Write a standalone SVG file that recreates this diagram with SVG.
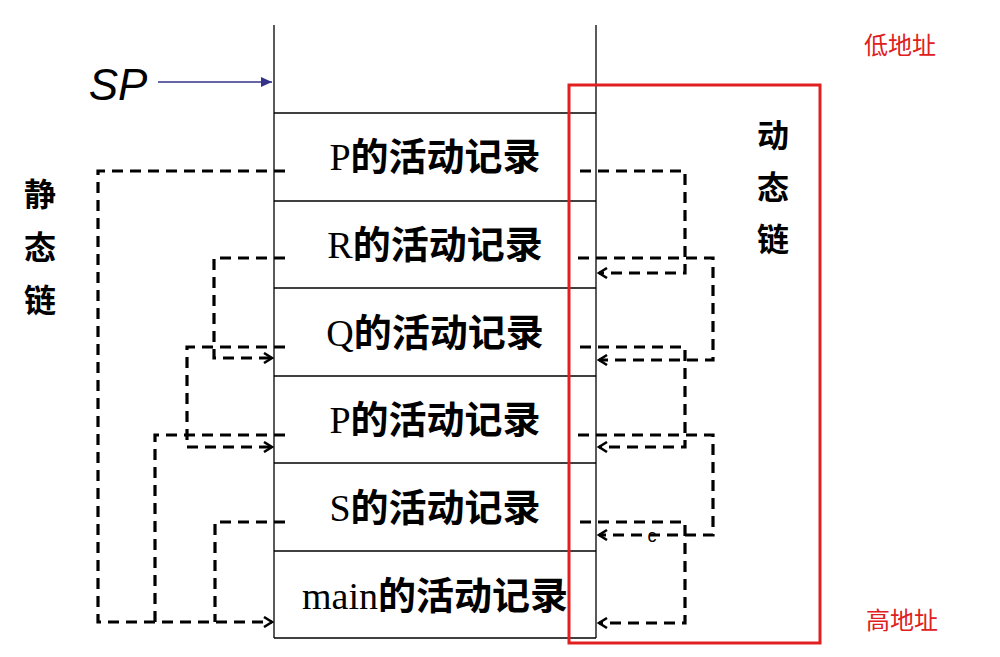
<svg xmlns="http://www.w3.org/2000/svg" width="1000" height="657" viewBox="0 0 1000 657">
<style>
.box{fill:none;stroke:#000;stroke-width:1.3}
.t{font-family:"Liberation Serif","Noto Sans CJK SC",serif;font-size:38px;font-weight:bold;text-anchor:middle}
.t tspan{font-weight:normal}
.d{fill:none;stroke:#000;stroke-width:3.2;stroke-dasharray:11 7}
.z{font-family:"Noto Sans CJK SC",sans-serif;font-weight:bold;font-size:32px;text-anchor:middle}
.r{font-family:"Noto Sans CJK SC",sans-serif;font-size:24px;fill:#e02020;text-anchor:middle}
</style>
<defs>
<marker id="a" markerWidth="12" markerHeight="12" refX="10" refY="6" orient="auto" markerUnits="userSpaceOnUse"><path d="M2,1 L10,6 L2,11" fill="none" stroke="#000" stroke-width="2.5"/></marker>
<marker id="b" markerWidth="12" markerHeight="12" refX="11" refY="5" orient="auto" markerUnits="userSpaceOnUse"><path d="M0,0 L11,5 L0,10 z" fill="#33338a"/></marker>
</defs>
<g id="stack">
<line class="box" x1="274" y1="25" x2="274" y2="638"/>
<line class="box" x1="596" y1="25" x2="596" y2="638"/>
<line class="box" x1="274" y1="113" x2="596" y2="113"/>
<line class="box" x1="274" y1="201" x2="596" y2="201"/>
<line class="box" x1="274" y1="288" x2="596" y2="288"/>
<line class="box" x1="274" y1="376" x2="596" y2="376"/>
<line class="box" x1="274" y1="463" x2="596" y2="463"/>
<line class="box" x1="274" y1="551" x2="596" y2="551"/>
<line class="box" x1="274" y1="638" x2="596" y2="638"/>
</g>
<g id="labels">
<text class="t" x="435" y="170"><tspan>P</tspan>的活动记录</text>
<text class="t" x="435" y="258"><tspan>R</tspan>的活动记录</text>
<text class="t" x="435" y="346"><tspan>Q</tspan>的活动记录</text>
<text class="t" x="435" y="433"><tspan>P</tspan>的活动记录</text>
<text class="t" x="435" y="521"><tspan>S</tspan>的活动记录</text>
<text class="t" x="435" y="609"><tspan>main</tspan>的活动记录</text>
</g>
<g id="connectors">
<path class="d" d="M285,171 H98 V622 H272" marker-end="url(#a)"/>
<path class="d" d="M285,258 H214 V358 H272" marker-end="url(#a)"/>
<path class="d" d="M285,347 H187 V447 H272" marker-end="url(#a)"/>
<path class="d" d="M285,435 H155 V622"/>
<path class="d" d="M285,522 H215 V622"/>
<path class="d" d="M580,171 H685 V273 H599" marker-end="url(#a)"/>
<path class="d" d="M578,258 H713 V360 H599" marker-end="url(#a)"/>
<path class="d" d="M580,347 H685 V447 H599" marker-end="url(#a)"/>
<path class="d" d="M578,435 H713 V535 H599" marker-end="url(#a)"/>
<path class="d" d="M580,522 H685 V623 H599" marker-end="url(#a)"/>
<line x1="158" y1="82" x2="272" y2="82" stroke="#33338a" stroke-width="1.5" marker-end="url(#b)"/>
</g>
<text x="652" y="542" font-family="Liberation Sans,sans-serif" font-size="18" text-anchor="middle">c</text>
<rect x="569" y="85" width="251" height="558" fill="none" stroke="#e02020" stroke-width="3"/>
<text x="118" y="100" font-family="Liberation Sans,sans-serif" font-style="italic" font-size="44" text-anchor="middle">SP</text>
<g id="static">
<text class="z" x="40" y="206">静</text>
<text class="z" x="40" y="259">态</text>
<text class="z" x="40" y="312">链</text>
</g>
<g id="dynamic">
<text class="z" x="773" y="147">动</text>
<text class="z" x="773" y="199">态</text>
<text class="z" x="773" y="251">链</text>
</g>
<text class="r" x="900" y="54">低地址</text>
<text class="r" x="902" y="629">高地址</text>
</svg>
